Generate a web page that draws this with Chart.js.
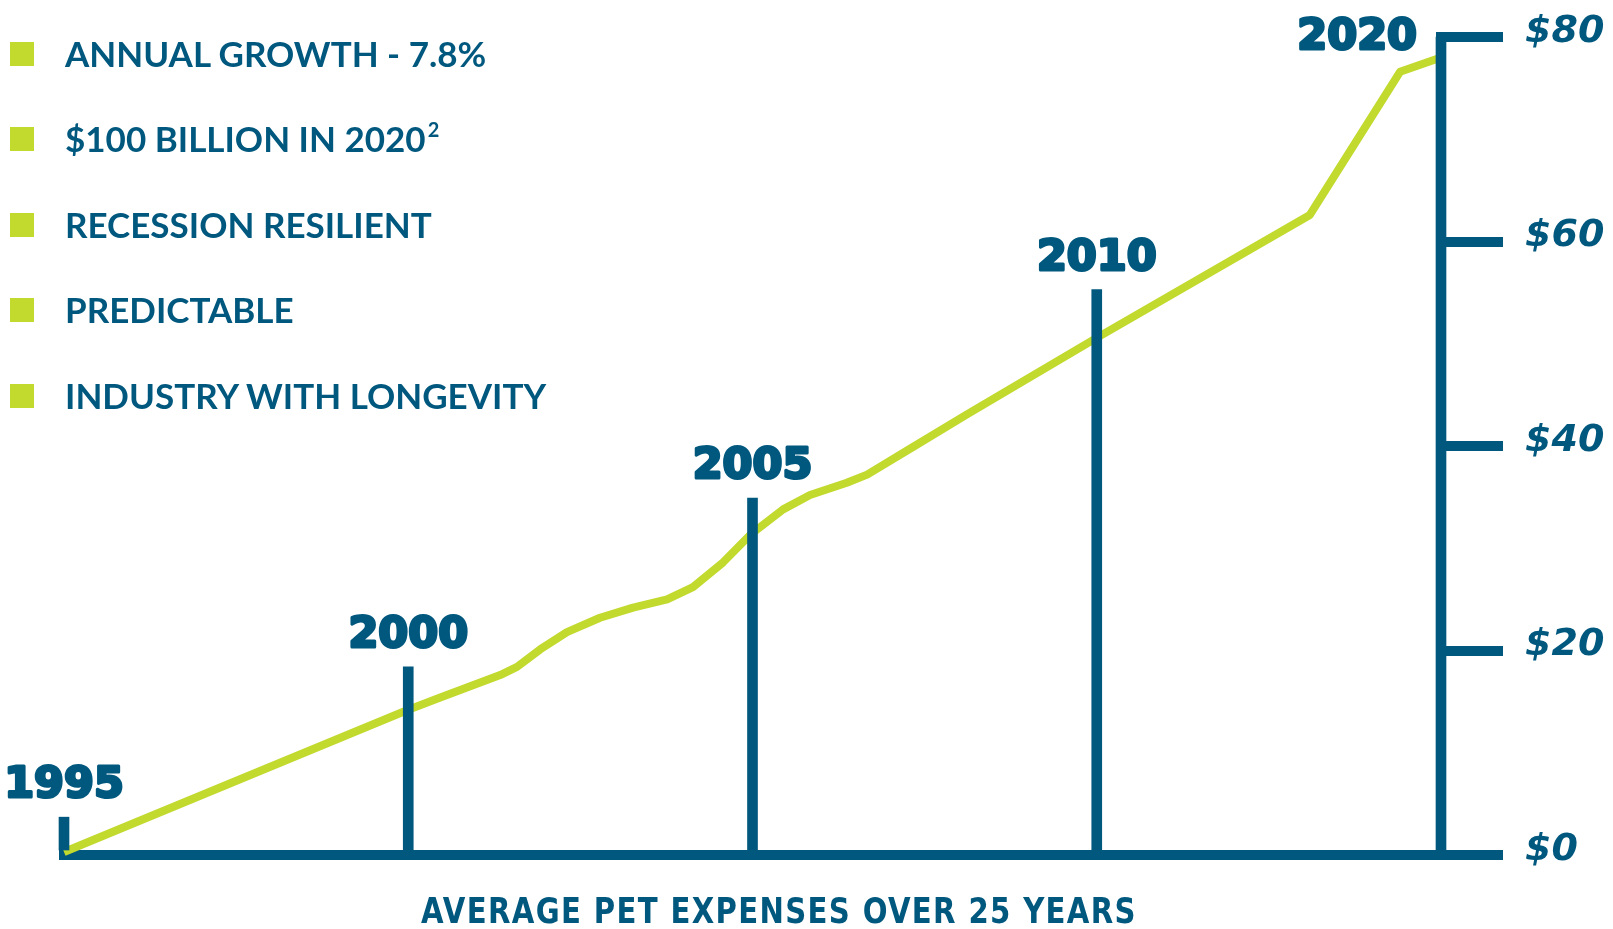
<!DOCTYPE html>
<html>
<head>
<meta charset="utf-8">
<script src="https://cdn.jsdelivr.net/npm/chart.js@4"></script>
<style>
  html, body { margin: 0; padding: 0; background: #fff; }
  #wrap { position: relative; width: 1613px; height: 929px; overflow: hidden; }
  #myChart { position: absolute; left: 0; top: 0; }
  #bullets { position: absolute; left: 0; top: 11px; margin: 0; padding: 0; list-style: none; }
  #bullets li {
    position: relative; height: 85.4px; line-height: 85.4px; padding-left: 65px;
    font-family: Lato, sans-serif; font-weight: bold; font-size: 35px; color: #00587e; white-space: nowrap;
  }
  #bullets li .sq { position: absolute; left: 10px; top: 31px; width: 24px; height: 24px; background: #c2d92e; }
  #bullets sup { font-size: 20px; line-height: 0; vertical-align: 15px; margin-left: 2px; }
  #caption {
    position: absolute; left: 279px; width: 1000px; top: 893px; text-align: center;
    font-family: "DejaVu Sans Condensed", "DejaVu Sans", sans-serif; font-stretch: condensed; font-weight: bold;
    font-size: 36px; line-height: 36px; letter-spacing: 1.5px; color: #00587e; white-space: nowrap;
    transform: scaleX(0.9); transform-origin: 50% 50%;
  }
</style>
</head>
<body>
<div id="wrap">
  <canvas id="myChart" width="1613" height="929"></canvas>
  <ul id="bullets">
    <li><span class="sq"></span>ANNUAL GROWTH - 7.8%</li>
    <li><span class="sq"></span>$100 BILLION IN 2020<sup>2</sup></li>
    <li><span class="sq"></span>RECESSION RESILIENT</li>
    <li><span class="sq"></span>PREDICTABLE</li>
    <li><span class="sq"></span>INDUSTRY WITH LONGEVITY</li>
  </ul>
  <div id="caption">AVERAGE PET EXPENSES OVER 25 YEARS</div>
</div>
<script>
const BLUE = '#00587e';
const GREEN = '#c2d92e';

// stems, one per labelled year (equally spaced, 2020 sits on the axis)
const years = ['1995', '2000', '2005', '2010', '2020'];
const stemPos = [0, 1, 2, 3, 4];
const stemValues = [3.7, 18.4, 34.9, 55.3, 80];

// green growth line
const linePos = [0, 1.0, 1.093, 1.267, 1.316, 1.383, 1.461, 1.557, 1.653, 1.752, 1.827, 1.914,
  1.993, 2.089, 2.167, 2.274, 2.333, 2.466, 2.623, 3.001, 3.619, 3.881, 4.0];
const lineValues = [0.3, 14.2, 15.4, 17.6, 18.4, 20.1, 21.8, 23.2, 24.2, 25.0, 26.2, 28.6,
  31.3, 33.8, 35.2, 36.4, 37.2, 39.9, 43.1, 50.6, 62.6, 76.6, 78.0];

const yTicks = [0, 20, 40, 60, 80];

const yearLabels = {
  id: 'yearLabels',
  afterDatasetsDraw(chart) {
    const meta = chart.getDatasetMeta(0);
    const c = chart.ctx;
    c.save();
    c.font = 'bold 43px "DejaVu Sans"';
    c.fillStyle = BLUE;
    c.strokeStyle = BLUE;
    c.lineWidth = 3;
    c.lineJoin = 'round';
    c.textBaseline = 'middle';
    meta.data.forEach((bar, i) => {
      let x = bar.x, y = bar.y - 31;
      if (i === meta.data.length - 1) {
        c.textAlign = 'right';
        x = bar.x - 24;
        y = bar.y + 1;
      } else {
        c.textAlign = 'center';
      }
      c.strokeText(years[i], x, y);
      c.fillText(years[i], x, y);
    });
    c.restore();
  }
};

const ctx = document.getElementById('myChart');

new Chart(ctx, {
  type: 'line',
  data: {
    datasets: [{
      type: 'bar',
      data: stemPos.map((x, i) => ({ x: x, y: stemValues[i] })),
      backgroundColor: BLUE,
      barThickness: 10,
      order: 0,
      clip: false
    }, {
      type: 'line',
      data: linePos.map((x, i) => ({ x: x, y: lineValues[i] })),
      borderColor: GREEN,
      borderWidth: 8,
      pointRadius: 0,
      tension: 0,
      borderJoinStyle: 'round',
      order: 1,
      clip: false
    }]
  },
  options: {
    responsive: false,
    animation: false,
    layout: { padding: { top: 37, left: 64, right: 0, bottom: 74 } },
    plugins: { legend: { display: false }, tooltip: { enabled: false } },
    scales: {
      x: {
        type: 'linear',
        min: 0,
        max: 4,
        offset: false,
        ticks: { display: false },
        grid: { display: false, drawTicks: false },
        border: { display: true, width: 10, color: BLUE }
      },
      y: {
        position: 'right',
        min: 0,
        max: 80,
        afterBuildTicks: (scale) => { scale.ticks = yTicks.map(v => ({ value: v })); },
        afterFit: (scale) => {
          scale.width = 172;
          scale.paddingTop = 0;
          scale.paddingBottom = 0;
        },
        ticks: {
          callback: v => '$' + v,
          color: BLUE,
          font: { family: 'DejaVu Sans', size: 38, style: 'italic', weight: 'bold' },
          padding: 22,
          labelOffset: -5
        },
        grid: { drawOnChartArea: false, drawTicks: true, tickLength: 62, lineWidth: 10, color: BLUE },
        border: { display: true, width: 10, color: BLUE }
      }
    }
  },
  plugins: [yearLabels]
});
</script>
</body>
</html>
